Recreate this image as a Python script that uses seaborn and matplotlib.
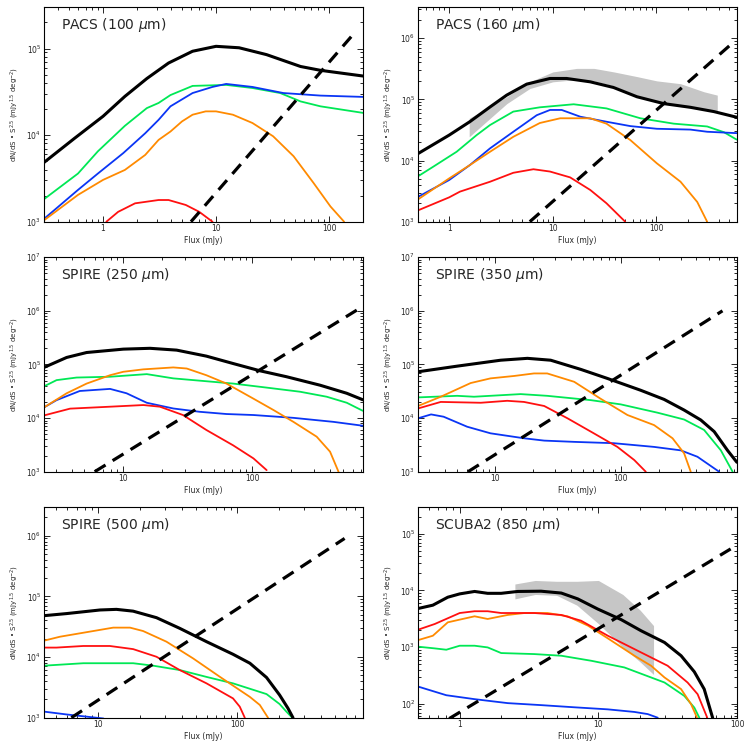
import matplotlib
matplotlib.use("Agg")
import matplotlib.pyplot as plt
import matplotlib.ticker as mticker
import seaborn as sns

# ---- PACS 100 ----
p100_black_x = [0.28, 0.56, 1.0, 1.56, 2.44, 3.8, 6.2, 10, 16, 28, 56, 84, 203]
p100_black_y = [4.5e3, 9.2e3, 1.65e4, 2.8e4, 4.5e4, 6.8e4, 9.3e4, 1.06e5, 1.02e5, 8.5e4, 6.2e4, 5.6e4, 4.8e4]
p100_green_x = [0.28, 0.6, 0.9, 1.56, 2.44, 3.1, 3.95, 6.2, 12.3, 21, 37, 56, 84, 203]
p100_green_y = [1.7e3, 3.6e3, 6.5e3, 1.28e4, 2.05e4, 2.35e4, 2.9e4, 3.7e4, 3.8e4, 3.5e4, 3.06e4, 2.45e4, 2.15e4, 1.8e4]
p100_blue_x = [0.28, 0.37, 0.6, 0.9, 1.51, 2.36, 3.1, 3.95, 6.2, 9.3, 12.3, 21, 39.5, 84, 203]
p100_blue_y = [1.0e3, 1.36e3, 2.33e3, 3.6e3, 6.2e3, 1.05e4, 1.5e4, 2.15e4, 3.06e4, 3.6e4, 3.9e4, 3.6e4, 3.06e4, 2.86e4, 2.76e4]
p100_orange_x = [0.28, 0.6, 1.0, 1.56, 2.36, 3.1, 3.95, 5.0, 6.2, 8.1, 10, 14.1, 21, 32, 48.6, 73, 103, 136]
p100_orange_y = [9.7e2, 2.04e3, 3.04e3, 3.96e3, 5.9e3, 8.8e3, 1.1e4, 1.44e4, 1.72e4, 1.88e4, 1.88e4, 1.72e4, 1.38e4, 9.7e3, 5.7e3, 2.8e3, 1.5e3, 1.0e3]
p100_red_x = [1.07, 1.36, 1.92, 3.1, 3.8, 5.4, 7.1, 9.3]
p100_red_y = [1.0e3, 1.3e3, 1.63e3, 1.78e3, 1.78e3, 1.56e3, 1.3e3, 1.0e3]
p100_dash_x = [6.0, 167]
p100_dash_y = [1.0e3, 1.5e5]

# ---- PACS 160 ----
p160_black_x = [0.49, 1.0, 1.58, 2.48, 3.59, 5.6, 9.4, 13.6, 23, 38.6, 65, 118, 213, 359, 594]
p160_black_y = [1.27e4, 2.6e4, 4.3e4, 7.5e4, 1.17e5, 1.77e5, 2.19e5, 2.19e5, 1.93e5, 1.56e5, 1.1e5, 8.5e4, 7.4e4, 6.3e4, 5.1e4]
p160_green_x = [0.49, 0.7, 1.18, 1.84, 2.48, 4.16, 7.5, 15.9, 33, 70, 147, 309, 449, 594]
p160_green_y = [5.4e3, 7.9e3, 1.39e4, 2.6e4, 3.8e4, 6.3e4, 7.4e4, 8.3e4, 7.1e4, 4.9e4, 4.0e4, 3.6e4, 2.9e4, 2.2e4]
p160_blue_x = [0.49, 1.0, 1.58, 2.48, 4.16, 7.0, 9.4, 12.2, 18.4, 33, 56, 101, 213, 309, 594]
p160_blue_y = [2.5e3, 4.8e3, 8.4e3, 1.58e4, 2.95e4, 5.5e4, 6.7e4, 6.7e4, 5.2e4, 4.3e4, 3.65e4, 3.3e4, 3.2e4, 2.95e4, 2.8e4]
p160_orange_x = [0.49, 1.0, 1.58, 2.48, 4.16, 7.5, 11.8, 23, 33, 56, 101, 171, 248, 309]
p160_orange_y = [2.26e3, 5.1e3, 8.4e3, 1.39e4, 2.44e4, 4.1e4, 4.9e4, 4.9e4, 4.0e4, 2.16e4, 9.0e3, 4.5e3, 2.1e3, 1.0e3]
p160_red_x = [0.49, 1.0, 1.27, 2.48, 4.16, 6.5, 9.4, 14.7, 23, 33, 50]
p160_red_y = [1.51e3, 2.5e3, 3.1e3, 4.5e3, 6.3e3, 7.2e3, 6.6e3, 5.3e3, 3.3e3, 2.0e3, 1.0e3]
p160_dash_x = [6.0, 560]
p160_dash_y = [1.0e3, 8.7e5]
p160_band_x = [1.56, 3.6, 6.0, 10, 17, 25, 39, 65, 101, 171, 287, 387]
p160_band_lo = [2.44e4, 8.5e4, 1.5e5, 1.93e5, 2.1e5, 2.0e5, 1.65e5, 1.15e5, 9.0e4, 7.6e4, 6.8e4, 6.3e4]
p160_band_hi = [4.9e4, 1.1e5, 1.93e5, 2.8e5, 3.2e5, 3.2e5, 2.8e5, 2.35e5, 2.0e5, 1.8e5, 1.33e5, 1.17e5]

# ---- SPIRE 250 ----
s250_black_x = [2.43, 3.64, 5.2, 10, 16.1, 25.9, 44, 71, 115, 184, 335, 539, 716]
s250_black_y = [8.8e4, 1.35e5, 1.67e5, 1.93e5, 2.0e5, 1.85e5, 1.43e5, 1.04e5, 7.6e4, 5.9e4, 4.1e4, 2.9e4, 2.2e4]
s250_green_x = [2.43, 3.04, 4.35, 7.9, 15.2, 24.4, 71, 129, 234, 377, 539, 716]
s250_green_y = [3.9e4, 5.1e4, 5.7e4, 5.9e4, 6.6e4, 5.5e4, 4.4e4, 3.7e4, 3.1e4, 2.5e4, 1.93e4, 1.37e4]
s250_orange_x = [2.43, 3.64, 5.2, 7.9, 10, 14.3, 24.4, 31, 44, 63, 102, 146, 208, 315, 400, 465]
s250_orange_y = [1.58e4, 2.9e4, 4.4e4, 6.3e4, 7.3e4, 8.1e4, 8.8e4, 8.4e4, 6.3e4, 4.4e4, 2.3e4, 1.41e4, 8.5e3, 4.5e3, 2.36e3, 1.0e3]
s250_blue_x = [2.43, 3.04, 4.6, 7.9, 10.6, 15.2, 24.4, 39, 63, 102, 208, 425, 716]
s250_blue_y = [1.58e4, 2.16e4, 3.2e4, 3.5e4, 2.9e4, 1.93e4, 1.51e4, 1.31e4, 1.19e4, 1.14e4, 1.01e4, 8.5e3, 7.2e3]
s250_red_x = [2.43, 3.87, 7.9, 14.3, 19.2, 29, 44, 71, 102, 129]
s250_red_y = [1.12e4, 1.5e4, 1.63e4, 1.75e4, 1.63e4, 1.14e4, 6.0e3, 3.1e3, 1.77e3, 1.07e3]
s250_dash_x = [6.0, 644]
s250_dash_y = [1.0e3, 1.03e6]

# ---- SPIRE 350 ----
s350_black_x = [2.44, 5.0, 11.1, 18.1, 27.7, 48, 78, 144, 221, 319, 433, 553, 706, 838]
s350_black_y = [7.3e4, 9.3e4, 1.2e5, 1.3e5, 1.2e5, 8.1e4, 5.5e4, 3.3e4, 2.23e4, 1.41e4, 9.2e3, 5.6e3, 2.5e3, 1.5e3]
s350_orange_x = [2.44, 3.7, 6.4, 9.2, 14.2, 20.4, 26, 42.6, 69, 113, 184, 258, 319, 360]
s350_orange_y = [1.68e4, 2.5e4, 4.5e4, 5.5e4, 6.1e4, 6.8e4, 6.8e4, 4.75e4, 2.3e4, 1.14e4, 7.4e3, 4.2e3, 2.2e3, 1.0e3]
s350_green_x = [2.44, 5.0, 6.8, 16, 26, 57.7, 100, 196, 319, 460, 625, 775]
s350_green_y = [2.43e4, 2.6e4, 2.5e4, 2.8e4, 2.6e4, 2.16e4, 1.8e4, 1.26e4, 9.4e3, 6.0e3, 2.5e3, 1.0e3]
s350_red_x = [2.44, 3.7, 7.7, 12.5, 17, 24.6, 37.7, 61, 94, 128, 158]
s350_red_y = [1.51e4, 2.0e4, 1.93e4, 2.1e4, 2.0e4, 1.68e4, 9.9e3, 5.2e3, 2.9e3, 1.65e3, 1.0e3]
s350_blue_x = [2.44, 3.1, 3.9, 6.0, 9.2, 17, 24.6, 42.6, 88, 184, 300, 407, 605]
s350_blue_y = [9.9e3, 1.17e4, 1.06e4, 6.9e3, 5.2e3, 4.2e3, 3.8e3, 3.6e3, 3.4e3, 2.9e3, 2.5e3, 1.9e3, 1.0e3]
s350_dash_x = [6.1, 644]
s350_dash_y = [1.0e3, 1.0e6]

# ---- SPIRE 500 ----
s500_black_x = [4.07, 5.93, 10.3, 13.5, 17.8, 26.2, 38.5, 60, 93, 123, 162, 201, 231, 251]
s500_black_y = [4.8e4, 5.2e4, 5.96e4, 6.1e4, 5.7e4, 4.45e4, 2.97e4, 1.79e4, 1.11e4, 7.9e3, 4.6e3, 2.37e3, 1.43e3, 1.0e3]
s500_orange_x = [4.07, 5.3, 9.2, 12.8, 16.9, 21, 30.9, 48, 75, 123, 145, 166]
s500_orange_y = [1.86e4, 2.16e4, 2.68e4, 3.05e4, 3.05e4, 2.68e4, 1.79e4, 9.5e3, 4.7e3, 2.2e3, 1.62e3, 1.0e3]
s500_red_x = [4.07, 5.0, 7.8, 12.1, 17.8, 26.2, 38.5, 60, 93, 104, 113]
s500_red_y = [1.43e4, 1.43e4, 1.52e4, 1.52e4, 1.35e4, 1.01e4, 6.1e3, 3.68e3, 2.08e3, 1.52e3, 1.0e3]
s500_green_x = [4.07, 7.8, 17.8, 24.8, 38.5, 60, 93, 162, 201, 225, 248]
s500_green_y = [7.2e3, 7.9e3, 7.9e3, 7.2e3, 6.1e3, 4.7e3, 3.68e3, 2.45e3, 1.68e3, 1.26e3, 1.0e3]
s500_blue_x = [4.07, 5.93, 10.9]
s500_blue_y = [1.26e3, 1.13e3, 9.7e2]
s500_dash_x = [6.4, 590]
s500_dash_y = [1.0e3, 9.0e5]

# ---- SCUBA2 850 ----
s850_black_x = [0.5, 0.64, 0.82, 1.0, 1.28, 1.59, 1.99, 2.62, 3.86, 5.4, 7.1, 9.9, 14.6, 20.3, 30, 39.5, 49.2, 58, 66.7]
s850_black_y = [4.8e3, 5.5e3, 7.6e3, 8.7e3, 9.6e3, 8.9e3, 8.9e3, 9.6e3, 9.7e3, 9.0e3, 7.1e3, 4.7e3, 3.06e3, 1.95e3, 1.21e3, 706, 368, 182, 57]
s850_red_x = [0.5, 0.66, 1.0, 1.28, 1.59, 1.99, 3.45, 5.4, 7.5, 11.7, 20.3, 31.6, 44, 52, 61]
s850_red_y = [2.03e3, 2.56e3, 4.0e3, 4.3e3, 4.3e3, 4.0e3, 4.0e3, 3.7e3, 2.93e3, 1.59e3, 808, 470, 238, 148, 57]
s850_orange_x = [0.5, 0.64, 0.82, 1.0, 1.28, 1.59, 2.22, 2.93, 4.3, 6.0, 8.4, 11.7, 18.2, 24, 30, 39.5, 46.6, 51.5]
s850_orange_y = [1.33e3, 1.59e3, 2.74e3, 3.06e3, 3.5e3, 3.14e3, 3.7e3, 4.0e3, 4.0e3, 3.5e3, 2.4e3, 1.43e3, 706, 470, 292, 182, 99, 57]
s850_green_x = [0.5, 0.66, 0.8, 1.0, 1.28, 1.59, 1.99, 3.45, 5.4, 8.9, 15.4, 30, 41.7, 49.2, 53.5]
s850_green_y = [1.02e3, 951, 901, 1.06e3, 1.06e3, 990, 787, 755, 706, 575, 439, 238, 138, 86, 57]
s850_blue_x = [0.5, 0.8, 1.28, 2.22, 3.86, 6.7, 11.7, 18.2, 22.7, 26.8]
s850_blue_y = [202, 142, 121, 103, 95, 87, 80, 72, 66, 57]
s850_dash_x = [0.84, 90]
s850_dash_y = [55, 5.4e4]
s850_band_x = [2.5, 3.5, 5.0, 7.0, 10, 15, 20, 25]
s850_band_lo = [7.1e3, 8.5e3, 8.2e3, 5.5e3, 2.6e3, 1.0e3, 5.5e2, 3.3e2]
s850_band_hi = [1.3e4, 1.5e4, 1.45e4, 1.45e4, 1.5e4, 8.5e3, 4.5e3, 2.4e3]

GREEN = "#00e855"
BLUE = "#0a35f5"
ORANGE = "#ff8a00"
RED = "#ff1010"
GRAY = "#c6c6c6"

sns.set_style("ticks")
plt.rcParams["font.family"] = ["DejaVu Sans"]

fig = plt.figure(figsize=(7.47, 7.47), dpi=100)

W = 319 / 747
H = 214.5 / 747
panels = [
    # left, bottom, height, title, xlim, ylim, curves, dash, band
    (44 / 747, 1 - 221.7 / 747, H, "PACS (100 $\\mu$m)", (0.3, 200), (1e3, 3e5),
     [(p100_green_x, p100_green_y, GREEN), (p100_blue_x, p100_blue_y, BLUE),
      (p100_orange_x, p100_orange_y, ORANGE), (p100_red_x, p100_red_y, RED),
      (p100_black_x, p100_black_y, "black")],
     (p100_dash_x, p100_dash_y), None),
    (418 / 747, 1 - 221.7 / 747, H, "PACS (160 $\\mu$m)", (0.5, 600), (1e3, 3.2e6),
     [(p160_green_x, p160_green_y, GREEN), (p160_blue_x, p160_blue_y, BLUE),
      (p160_orange_x, p160_orange_y, ORANGE), (p160_red_x, p160_red_y, RED),
      (p160_black_x, p160_black_y, "black")],
     (p160_dash_x, p160_dash_y), (p160_band_x, p160_band_lo, p160_band_hi)),
    (44 / 747, 1 - 471.7 / 747, H, "SPIRE (250 $\\mu$m)", (2.43, 720), (1e3, 1e7),
     [(s250_green_x, s250_green_y, GREEN), (s250_blue_x, s250_blue_y, BLUE),
      (s250_orange_x, s250_orange_y, ORANGE), (s250_red_x, s250_red_y, RED),
      (s250_black_x, s250_black_y, "black")],
     (s250_dash_x, s250_dash_y), None),
    (418 / 747, 1 - 471.7 / 747, H, "SPIRE (350 $\\mu$m)", (2.44, 840), (1e3, 1e7),
     [(s350_green_x, s350_green_y, GREEN), (s350_blue_x, s350_blue_y, BLUE),
      (s350_orange_x, s350_orange_y, ORANGE), (s350_red_x, s350_red_y, RED),
      (s350_black_x, s350_black_y, "black")],
     (s350_dash_x, s350_dash_y), None),
    (44 / 747, 1 - 717.7 / 747, 211 / 747, "SPIRE (500 $\\mu$m)", (4.07, 800), (1e3, 3e6),
     [(s500_green_x, s500_green_y, GREEN), (s500_blue_x, s500_blue_y, BLUE),
      (s500_orange_x, s500_orange_y, ORANGE), (s500_red_x, s500_red_y, RED),
      (s500_black_x, s500_black_y, "black")],
     (s500_dash_x, s500_dash_y), None),
    (418 / 747, 1 - 717.7 / 747, 211 / 747, "SCUBA2 (850 $\\mu$m)", (0.5, 100), (57, 3e5),
     [(s850_green_x, s850_green_y, GREEN), (s850_blue_x, s850_blue_y, BLUE),
      (s850_orange_x, s850_orange_y, ORANGE), (s850_red_x, s850_red_y, RED),
      (s850_black_x, s850_black_y, "black")],
     (s850_dash_x, s850_dash_y), (s850_band_x, s850_band_lo, s850_band_hi)),
]

for left, bottom, h, title, xlim, ylim, curves, dash, band in panels:
    ax = fig.add_axes([left, bottom, W, h])
    ax.set_xscale("log")
    ax.set_yscale("log")

    if band is not None:
        ax.fill_between(band[0], band[1], band[2], color=GRAY, lw=0, zorder=1)

    for xs, ys, col in curves:
        lw = 2.2 if col == "black" else 1.3
        sns.lineplot(x=xs, y=ys, ax=ax, color=col, lw=lw, zorder=3 if col == "black" else 2)

    sns.lineplot(x=dash[0], y=dash[1], ax=ax, color="black", lw=2.3,
                 linestyle=(0, (4, 2.6)), zorder=4)

    ax.set_xlim(*xlim)
    ax.set_ylim(*ylim)

    ax.xaxis.set_major_locator(mticker.LogLocator(base=10))
    ax.xaxis.set_minor_locator(mticker.LogLocator(base=10, subs=range(2, 10)))
    ax.yaxis.set_major_locator(mticker.LogLocator(base=10))
    ax.yaxis.set_minor_locator(mticker.LogLocator(base=10, subs=range(2, 10)))
    ax.xaxis.set_major_formatter(mticker.FuncFormatter(lambda v, p: "%g" % v))
    ax.xaxis.set_minor_formatter(mticker.NullFormatter())
    ax.yaxis.set_minor_formatter(mticker.NullFormatter())

    ax.tick_params(which="both", direction="in", top=True, right=True,
                   width=0.7, labelsize=5.5, pad=2)
    ax.tick_params(which="major", length=4)
    ax.tick_params(which="minor", length=2.2)
    for s in ax.spines.values():
        s.set_linewidth(0.8)
        s.set_color("black")

    ax.set_xlabel("Flux (mJy)", fontsize=5.5, labelpad=2)
    ax.set_ylabel("dN/dS \u2022 S$^{2.5}$ (mJy$^{1.5}$ deg$^{-2}$)", fontsize=5, labelpad=4)
    ax.text(0.052, 0.915, title, transform=ax.transAxes, fontsize=10,
            ha="left", va="center")

fig.savefig("out.png", dpi=100)
